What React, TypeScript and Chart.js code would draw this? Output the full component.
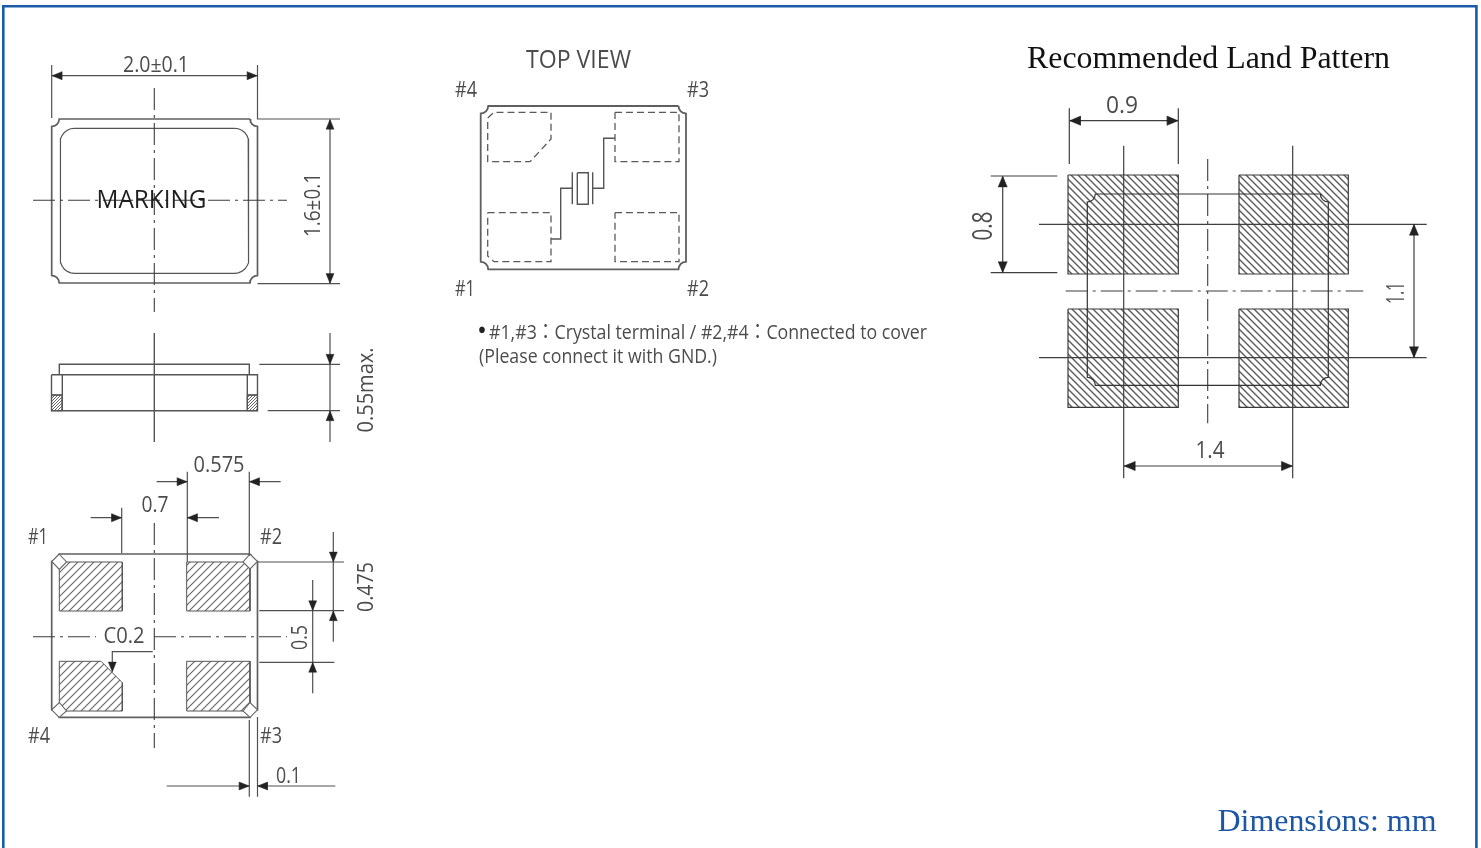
import React, { useEffect, useRef } from "react";
import { Chart, registerables } from "chart.js";

Chart.register(...registerables);

const SHEET_W = 1481;
const SHEET_H = 848;

// ---- Drawing geometry, in sheet units: flat x,y lists ----
const frameLine: number[] = [3.3, 848, 3.3, 6.2, 1476.4, 6.2, 1476.4, 848];

const markingOutline = [51.7, 119, 257.5, 283];
const markingInner = [60.3, 128.3, 248.7, 273.3];
const topViewOutline = [480.7, 106, 686, 269.3];
const bottomOutline = [51.7, 554, 257.5, 717.3];
const landOutline = [1087.3, 194, 1328.3, 385.3];

const sideViewLines: number[][] = [
  [154.3, 333, 154.3, 442],
  [59.3, 374.7, 59.3, 364.3, 249.3, 364.3, 249.3, 374.7],
  [51.5, 374.7, 257.5, 374.7, 257.5, 410.7, 51.5, 410.7, 51.5, 374.7],
  [62.3, 374.7, 62.3, 410.7],
  [247.3, 374.7, 247.3, 410.7],
  [51.5, 395, 62.3, 395],
  [247.3, 395, 257.5, 395],
];

const dimensionLines: number[][] = [
  // 2.0 +/- 0.1
  [51.7, 65, 51.7, 118],
  [257.5, 65, 257.5, 119, 340, 119],
  [52, 75.7, 257, 75.7],
  // 1.6 +/- 0.1
  [257.5, 283.7, 340, 283.7],
  [330, 120, 330, 283],
  // 0.55 max
  [330, 333, 330, 442],
  [259.3, 364.3, 340, 364.3],
  [267.7, 410.7, 340, 410.7],
  // 0.575
  [156.7, 481.7, 187.3, 481.7],
  [249.3, 481.7, 280.7, 481.7],
  [187.3, 471.7, 187.3, 561.7],
  [249.3, 471.7, 249.3, 556],
  // 0.7
  [90.7, 517.7, 121.7, 517.7],
  [187.3, 517.7, 219, 517.7],
  [121.7, 507.7, 121.7, 553],
  // C0.2 leader
  [152.7, 651.7, 112.3, 651.7, 112.3, 668],
  // 0.475
  [333.3, 532, 333.3, 641.7],
  [257.5, 562, 344, 562],
  [259.3, 610.7, 344, 610.7],
  // 0.5
  [312.7, 580, 312.7, 693.3],
  [259.3, 662.3, 334.3, 662.3],
  // 0.1
  [166.7, 786, 249.3, 786],
  [257.5, 786, 335.3, 786],
  [249.3, 720, 249.3, 796.7],
  [257.5, 717, 257.5, 796.7],
];

const centerLines: number[][] = [
  [154.3, 88, 154.3, 312],
  [33, 200.3, 287, 200.3],
  [154.3, 523, 154.3, 748],
  [33, 636.7, 96, 636.7],
  [154, 636.7, 287, 636.7],
  [1207.7, 159, 1207.7, 423.3],
  [1065.7, 291, 1363.3, 291],
];

const hiddenPadLines: number[][] = [
  [487.7, 118, 494, 112.3, 551, 112.3, 551, 139, 530, 161.7, 487.7, 161.7, 487.7, 118],
  [615, 112.3, 679, 112.3, 679, 161.7, 615, 161.7, 615, 112.3],
  [487.7, 212.7, 551, 212.7, 551, 261.7, 494, 261.7, 487.7, 256, 487.7, 212.7],
  [615, 212.7, 679, 212.7, 679, 261.7, 615, 261.7, 615, 212.7],
];

const crystalLines: number[][] = [
  [577.3, 172.7, 588.3, 172.7, 588.3, 204.3, 577.3, 204.3, 577.3, 172.7],
  [572.3, 172.3, 572.3, 204.3],
  [592.7, 172.3, 592.7, 204.3],
  [572.3, 188.3, 560.7, 188.3, 560.7, 239, 551, 239],
  [592.7, 188.3, 603.7, 188.3, 603.7, 138.3, 615, 138.3],
];

const bottomPads: number[][] = [
  [59.3, 562, 122.3, 562, 122.3, 611, 59.3, 611],
  [186.7, 562, 250, 562, 250, 611, 186.7, 611],
  [186.7, 661.3, 250, 661.3, 250, 711, 186.7, 711],
  [59.3, 661.3, 101, 661.3, 122.3, 682.7, 122.3, 711, 59.3, 711],
];

const cornerDiamonds: number[][] = [
  [59.2, 554, 51.7, 561.5, 59.3, 569.5, 66.5, 562],
  [250, 554, 257.5, 561.5, 250, 569, 243, 562],
  [59.2, 717.3, 51.7, 709.8, 59.3, 702.5, 66.5, 711],
  [250, 717.3, 257.5, 709.8, 250, 702.5, 243, 711],
];

const sideHatches: number[][] = [
  [51.5, 395, 62.3, 395, 62.3, 410.7, 51.5, 410.7],
  [247.3, 395, 257.5, 395, 257.5, 410.7, 247.3, 410.7],
];

const landPads: number[][] = [
  [1068, 175, 1178.3, 175, 1178.3, 274, 1068, 274],
  [1239, 175, 1348.3, 175, 1348.3, 274, 1239, 274],
  [1068, 309, 1178.3, 309, 1178.3, 407.3, 1068, 407.3],
  [1239, 309, 1348.3, 309, 1348.3, 407.3, 1239, 407.3],
];

const landLines: number[][] = [
  [1123.7, 145.7, 1123.7, 478.3],
  [1292.7, 145.7, 1292.7, 478.3],
  [1039, 224.3, 1426.7, 224.3],
  [1039, 357.7, 1426.7, 357.7],
  // 0.9
  [1069.3, 108.3, 1069.3, 164],
  [1178.3, 108.3, 1178.3, 164],
  [1070, 120.7, 1178, 120.7],
  // 0.8
  [990.7, 176, 1057.3, 176],
  [990.7, 272.7, 1057.3, 272.7],
  [1002.7, 177, 1002.7, 272],
  // 1.1
  [1414, 225, 1414, 357],
  // 1.4
  [1124, 466, 1292, 466],
];

// arrow tips: x, y, pointing direction (R L U D)
const arrowTips: [number, number, string][] = [
  [51.9, 75.7, "L"], [257.3, 75.7, "R"],
  [330, 119.3, "U"], [330, 283.5, "D"],
  [330, 364.3, "D"], [330, 410.7, "U"],
  [187.3, 481.7, "R"], [249.3, 481.7, "L"],
  [121.7, 517.7, "R"], [187.3, 517.7, "L"],
  [112.3, 672, "D"],
  [333.3, 562, "D"], [333.3, 610.7, "U"],
  [312.7, 610.7, "D"], [312.7, 662.3, "U"],
  [249.3, 786, "R"], [257.5, 786, "L"],
  [1069.5, 120.7, "L"], [1178.2, 120.7, "R"],
  [1002.7, 176, "U"], [1002.7, 272.7, "D"],
  [1414, 224.3, "U"], [1414, 357.7, "D"],
  [1124, 466, "L"], [1292.7, 466, "R"],
];

// ---- Text ----
const labelTexts: string[] = [
  "2.0±0.1", "MARKING", "1.6±0.1", "0.55max.", "0.575", "0.7", "#1", "#2", "#4", "#3",
  "C0.2", "0.475", "0.5", "0.1",
  "TOP VIEW", "#4", "#3", "#1", "#2",
  "•", "#1,#3：Crystal terminal / #2,#4：Connected to cover",
  "(Please connect it with GND.)",
  "0.9", "0.8", "1.1", "1.4",
];
// centre x, baseline y, fitted width, px size, rotated
const labelPlaces: number[][] = [
  [156, 72, 66, 22, 0], [151.5, 208, 110, 25, 0], [320, 205, 64, 22, 1], [373, 390, 85, 22, 1],
  [219, 471.5, 51, 22, 0], [155, 511.5, 27, 22, 0], [38, 543.5, 20, 21, 0], [271, 543.5, 22, 21, 0],
  [39, 743, 22, 21, 0], [271, 743, 22, 21, 0],
  [124, 643, 41, 22, 0], [373, 587, 50, 22, 1], [307, 637.5, 25, 22, 1], [288.5, 783, 25, 22, 0],
  [578.5, 68, 105, 25, 0], [466, 97, 22, 21, 0], [698, 97, 22, 21, 0], [465, 296, 20, 21, 0], [698, 296, 22, 21, 0],
  [482, 340, 10, 28, 0], [708, 339, 438, 20, 0], [598, 363, 238, 20, 0],
  [1122, 113, 32, 24, 0], [992, 226, 29, 28, 1], [1403.5, 293, 22, 26, 1], [1210, 458, 29, 24, 0],
];

const titleTexts: string[] = ["Recommended Land Pattern", "Dimensions: mm"];
const titlePlaces: number[][] = [[1208.5, 68, 363, 32], [1327, 831, 219, 32]];

// ---- Helpers ----
type Pt = { x: number; y: number };
const toPts = (flat: number[]): Pt[] => {
  const out: Pt[] = [];
  for (let i = 0; i < flat.length; i += 2) out.push({ x: flat[i], y: flat[i + 1] });
  return out;
};
const closed = (flat: number[]) => [...flat, flat[0], flat[1]];
const joinGaps = (list: number[][]): Pt[] => {
  const out: Pt[] = [];
  list.forEach((f, i) => {
    if (i) out.push({ x: NaN, y: NaN });
    out.push(...toPts(f));
  });
  return out;
};
const notched = ([l, t, r, b]: number[], n: number): number[] => {
  const out: number[] = [];
  for (let i = 0; i < 5; i++) out.push(r - n * Math.cos((i * Math.PI) / 8), t + n * Math.sin((i * Math.PI) / 8));
  for (let i = 0; i < 5; i++) out.push(r - n * Math.sin((i * Math.PI) / 8), b - n * Math.cos((i * Math.PI) / 8));
  for (let i = 0; i < 5; i++) out.push(l + n * Math.cos((i * Math.PI) / 8), b - n * Math.sin((i * Math.PI) / 8));
  for (let i = 0; i < 5; i++) out.push(l + n * Math.sin((i * Math.PI) / 8), t + n * Math.cos((i * Math.PI) / 8));
  return closed(out);
};
const rounded = ([l, t, r, b]: number[], n: number): number[] => {
  const out: number[] = [];
  const arc = (cx: number, cy: number, a0: number) => {
    for (let i = 0; i <= 6; i++) {
      const a = a0 + (i * Math.PI) / 12;
      out.push(cx + n * Math.cos(a), cy + n * Math.sin(a));
    }
  };
  arc(r - n, t + n, -Math.PI / 2);
  arc(r - n, b - n, 0);
  arc(l + n, b - n, Math.PI / 2);
  arc(l + n, t + n, Math.PI);
  return closed(out);
};
const arrowPoly = ([x, y, d]: [number, number, string], len: number, half: number): number[] => {
  if (d === "R") return [x, y, x - len, y - half, x - len, y + half];
  if (d === "L") return [x, y, x + len, y - half, x + len, y + half];
  if (d === "U") return [x, y, x - half, y + len, x + half, y + len];
  return [x, y, x - half, y - len, x + half, y - len];
};
const hatchPattern = (size: number, lineW: number, color: string, back: boolean) => {
  const c = document.createElement("canvas");
  c.width = size;
  c.height = size;
  const g = c.getContext("2d")!;
  g.strokeStyle = color;
  g.lineWidth = lineW;
  if (back) {
    g.translate(size, 0);
    g.scale(-1, 1);
  }
  g.beginPath();
  for (const o of [-size, 0, size]) {
    g.moveTo(o - 1, size + 1);
    g.lineTo(o + size + 1, -1);
  }
  g.stroke();
  return g.createPattern(c, "repeat")!;
};

const LABEL_FONT = '"Open Sans", "Noto Sans CJK JP", sans-serif';
const TITLE_FONT = '"Liberation Serif", serif';

const sheetText = {
  id: "sheetText",
  afterDraw(chart: any) {
    const { ctx, scales } = chart;
    const px = (v: number) => scales.x.getPixelForValue(v);
    const py = (v: number) => scales.y.getPixelForValue(v);
    ctx.save();
    ctx.textBaseline = "alphabetic";
    ctx.textAlign = "center";
    labelTexts.forEach((t, i) => {
      const [x, y, w, size, rot] = labelPlaces[i];
      ctx.save();
      ctx.translate(px(x), py(y));
      if (rot) ctx.rotate(-Math.PI / 2);
      ctx.font = `${size}px ${LABEL_FONT}`;
      ctx.fillStyle = t === "MARKING" ? "#1f1f1f" : t === "•" ? "#222222" : "#4c4c4c";
      ctx.fillText(t, 0, 0, w);
      ctx.restore();
    });
    titleTexts.forEach((t, i) => {
      const [x, y, w, size] = titlePlaces[i];
      ctx.font = `${size}px ${TITLE_FONT}`;
      ctx.fillStyle = i === 0 ? "#111111" : "#1c56a4";
      ctx.fillText(t, px(x), py(y), w);
    });
    ctx.restore();
  },
};

export default function App() {
  const ref = useRef<HTMLCanvasElement>(null);
  useEffect(() => {
    if (!ref.current) return;
    const line = (data: Pt[], color: string, width: number, dash: number[] = []) => ({
      data,
      showLine: true,
      pointRadius: 0,
      borderColor: color,
      borderWidth: width,
      borderDash: dash,
      fill: false,
      spanGaps: false,
    });
    const shape = (flat: number[], paint: any, color: string, width: number) => ({
      data: toPts(closed(flat)),
      showLine: true,
      pointRadius: 0,
      borderColor: color,
      borderWidth: width,
      backgroundColor: paint,
      fill: "shape",
    });
    const padHatch = hatchPattern(8, 1.2, "#6a6a6a", false);
    const fineHatch = hatchPattern(3, 0.9, "#555555", false);
    const landHatch = hatchPattern(7, 1.4, "#5c5c5c", true);

    const painted: any[] = [
      line(toPts(frameLine), "#1a5ca8", 2.6),
      ...landPads.map((p) => shape(p, landHatch, "#3a3a3a", 1.2)),
      ...sideHatches.map((p) => shape(p, fineHatch, "#555555", 1)),
      ...bottomPads.map((p) => shape(p, padHatch, "#555555", 1)),
      line(toPts(notched(markingOutline, 7.5)), "#5f5f5f", 1.7),
      line(toPts(rounded(markingInner, 14)), "#555555", 1.2),
      line(toPts(notched(topViewOutline, 7.5)), "#5f5f5f", 1.8),
      line(toPts(notched(bottomOutline, 7.5)), "#5f5f5f", 1.7),
      ...cornerDiamonds.map((p) => shape(p, "#ffffff", "#666666", 1.1)),
      line(joinGaps(sideViewLines), "#555555", 1.4),
      line(joinGaps(dimensionLines), "#505050", 1.2),
      line(joinGaps(crystalLines), "#555555", 1.4),
      line(joinGaps(hiddenPadLines), "#5a5a5a", 1.3, [7, 4]),
      line(joinGaps(centerLines), "#3d3d3d", 1.1, [22, 5, 3, 5]),
      line(toPts(notched(landOutline, 8)), "#333333", 1.2),
      line(joinGaps(landLines), "#3f3f3f", 1.2),
      ...arrowTips.map((a) => {
        const big = a[0] > 900;
        return shape(arrowPoly(a, big ? 11 : 10, big ? 4.6 : 4), "#222222", "#222222", 0.4);
      }),
    ];
    const datasets = painted.map((d, i) => ({ ...d, order: painted.length - i }));

    const chart = new Chart(ref.current, {
      type: "scatter",
      data: { datasets },
      plugins: [sheetText],
      options: {
        animation: false,
        responsive: false,
        maintainAspectRatio: false,
        events: [],
        layout: { padding: 0 },
        scales: {
          x: { type: "linear", display: false, min: 0, max: SHEET_W },
          y: { type: "linear", display: false, min: 0, max: SHEET_H, reverse: true },
        },
        plugins: { legend: { display: false }, tooltip: { enabled: false }, title: { display: false } },
      },
    } as any);
    return () => chart.destroy();
  }, []);
  return (
    <canvas
      ref={ref}
      width={SHEET_W}
      height={SHEET_H}
      style={{ position: "fixed", left: 0, top: 0, display: "block", background: "#ffffff" }}
    />
  );
}
